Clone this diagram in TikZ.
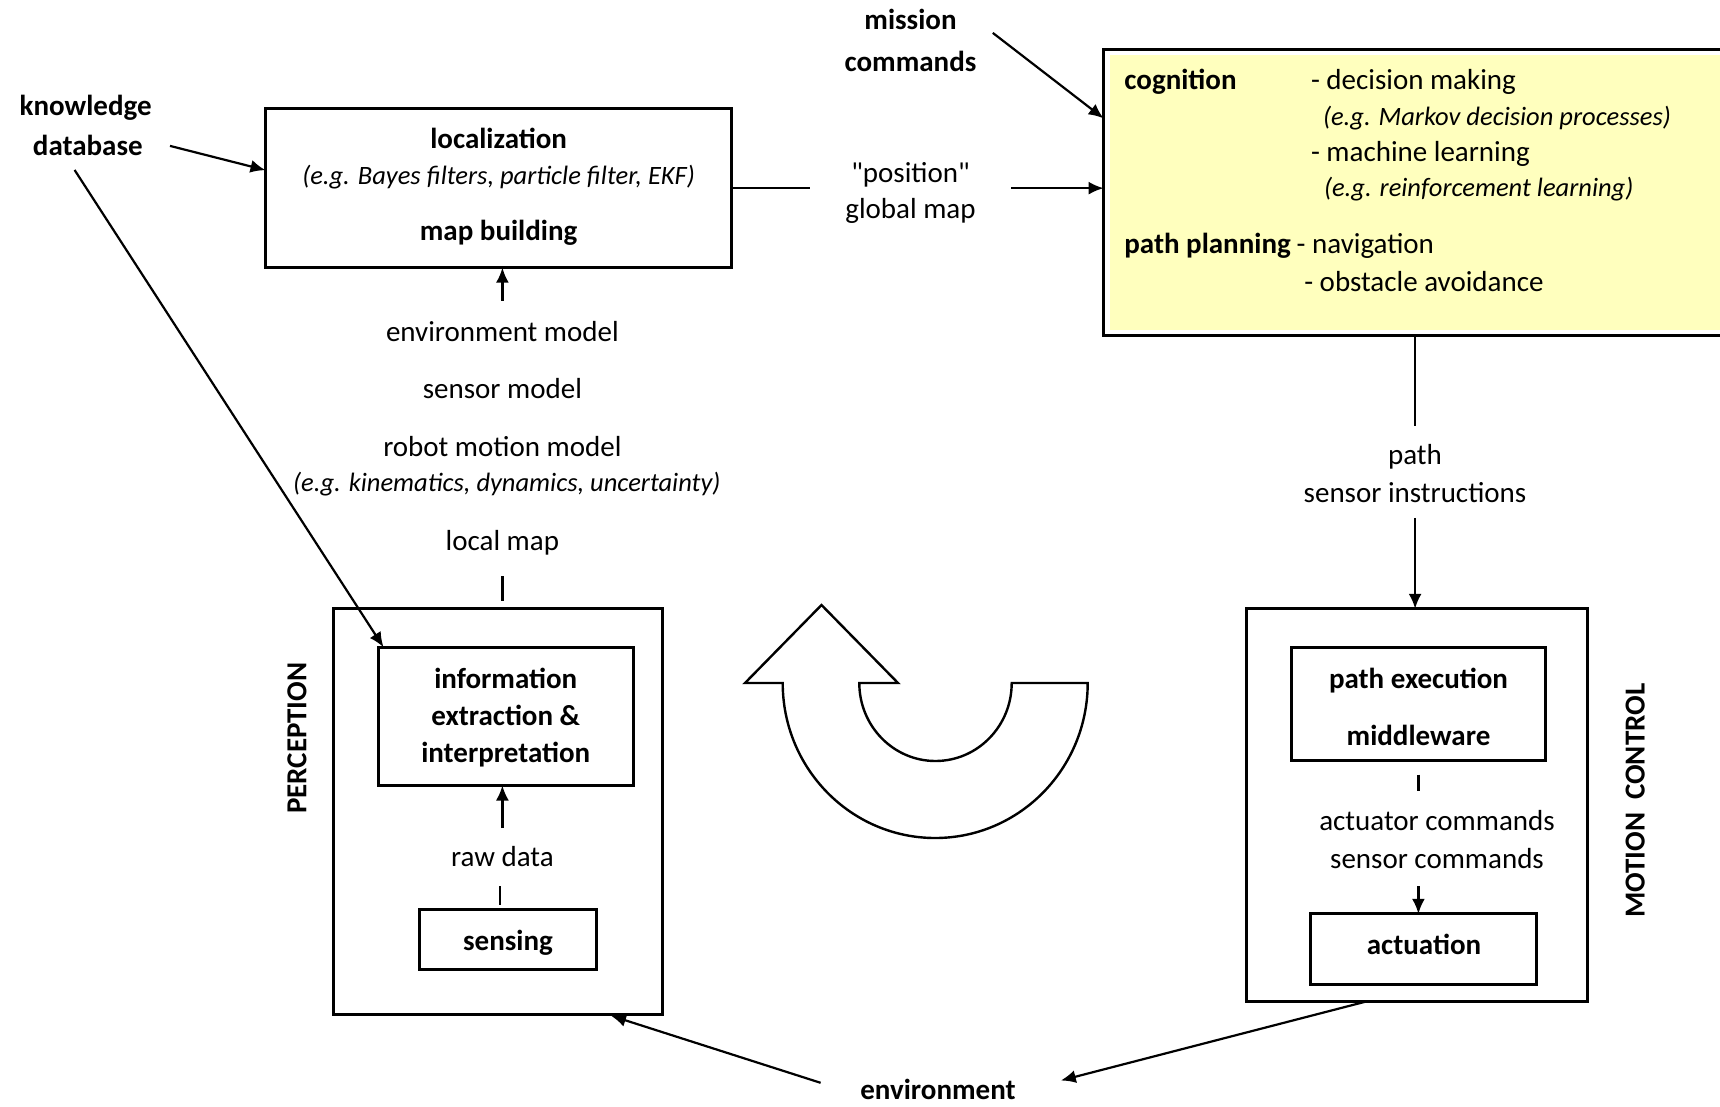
\documentclass[tikz,border=0pt]{standalone}
\usepackage{fontspec}
\setmainfont{Carlito}
\usetikzlibrary{arrows.meta,calc}
\definecolor{cogfill}{RGB}{255,255,190}
\begin{document}
\begin{tikzpicture}[x=1pt,y=-1pt,
  every node/.style={inner sep=0pt, outer sep=0pt, font=\fontsize{29}{40}\selectfont},
  ln/.style={text height=26pt, text depth=5.4pt},
  bf/.style={font=\fontsize{29}{40}\selectfont\bfseries},
  it/.style={font=\fontsize{26.5}{36}\selectfont\itshape},
  box/.style={draw, line width=3pt, rectangle},
  conn/.style={line width=2.2pt},
  arr/.style={line width=2.2pt, -{Latex[length=15pt,width=13pt]}},
]
\clip (0,0) rectangle (1720,1107);
\fill[white] (0,0) rectangle (1720,1107);

% cognition box
\node[box, fill=white, minimum width=680pt, minimum height=286.3pt, anchor=north west] (cog) at (1103.6,49.4) {};
\fill[cogfill] ($(cog.north west)+(6,6)$) rectangle ($(cog.south east)+(-6,-6)$);
\node[bf,ln,anchor=west] (cogt) at (1124.4,79) {cognition};
\node[ln,anchor=west] (dm) at (1311,79) {- decision making};
\node[it,ln,anchor=west] (mdp) at (1323,115.2) {(e.g. Markov decision processes)};
\node[ln,anchor=west] (ml) at (1311,151.4) {- machine learning};
\node[it,ln,anchor=west] (rl) at (1324,186.5) {(e.g. reinforcement learning)};
\node[bf,ln,anchor=west] (pp) at (1124.4,243.5) {path planning};
\node[ln,anchor=west] (nav) at (1296.7,243.5) {- navigation};
\node[ln,anchor=west] (oa) at (1304.3,280.8) {- obstacle avoidance};

% top labels
\node[bf,ln] (mis1) at (910.5,19.7) {mission};
\node[bf,ln] (mis2) at (910.5,61.4) {commands};
\node[bf,ln] (kd1) at (85.6,105.3) {knowledge};
\node[bf,ln] (kd2) at (87.8,144.8) {database};

% localization box
\node[box, minimum width=466.2pt, minimum height=159.1pt] (loc) at (498.6,188.15) {};
\node[bf,ln] (loct) at (498.6,138.2) {localization};
\node[it,ln] (loce) at (498.6,174.4) {(e.g. Bayes filters, particle filter, EKF)};
\node[bf,ln] (mapb) at (498.6,230.4) {map building};

\node[ln] (pos1) at (910.5,172.2) {\textquotedbl position\textquotedbl};
\node[ln] (pos2) at (910.5,208.4) {global map};
\coordinate (posL) at (809.6,188.15);
\coordinate (posR) at (1011.4,188.15);
\draw[conn] (loc.east) -- (posL);
\draw[arr] (posR) -- (posR -| cog.west);

\coordinate (misS) at (992.8,32.9);
\draw[arr] (misS) -- ($(cog.north west)+(0,69)$);

% middle labels
\node[ln] (envm) at (502.4,331.3) {environment model};
\node[ln] (senm) at (502.4,388.3) {sensor model};
\node[ln] (robm) at (502.4,446.5) {robot motion model};
\node[it,ln] (robe) at (506.8,481.6) {(e.g. kinematics, dynamics, uncertainty)};
\node[ln] (locm) at (502.4,539.7) {local map};
\coordinate (envS) at (502.4,300.6);
\draw[arr] (envS) -- (envS |- loc.south);
\coordinate (lmA) at (502.4,576);
\coordinate (lmB) at (502.4,601.2);
\draw[conn] (lmA) -- (lmB);

% perception
\node[box, minimum width=329.1pt, minimum height=405.9pt] (perc) at (498.05,811.75) {};
\node[box, minimum width=254.5pt, minimum height=138.3pt] (info) at (505.75,716.35) {};
\node[bf,ln] (inf1) at (505.75,678) {information};
\node[bf,ln] (inf2) at (505.75,715.2) {extraction \&};
\node[bf,ln] (inf3) at (505.75,752.5) {interpretation};
\node[ln] (raw) at (502.4,855.7) {raw data};
\coordinate (rawA) at (502.4,828.2);
\draw[arr] (rawA) -- (rawA |- info.south);
\coordinate (rawB) at (500.2,886.4);
\coordinate (rawC) at (500.2,905);
\draw[conn] (rawB) -- (rawC);
\node[box, minimum width=177.8pt, minimum height=60.3pt] (sens) at (507.9,939.55) {};
\node[bf,ln] (senst) at (508,940) {sensing};
\node[bf,ln,rotate=90] (perct) at (296,738.3) {PERCEPTION};

% knowledge arrows
\coordinate (kdS) at (170,145.9);
\draw[arr] (kdS) -- ($(loc.west)+(0,-18)$);
\coordinate (kdS2) at (74.6,170);
\draw[arr] (kdS2) -- ($(info.north west)+(5,0)$);

% cognition to motion control
\coordinate (cogA) at (1415.1,425.6);
\draw[conn] (cogA |- cog.south) -- (cogA);
\node[ln] (pth) at (1415,454.2) {path};
\node[ln] (sins) at (1415,492.6) {sensor instructions};

% motion control
\node[box, minimum width=341.2pt, minimum height=392.8pt] (mot) at (1416.8,805.2) {};
\coordinate (cogB) at (1415.1,517.8);
\draw[arr] (cogB) -- (cogB |- mot.north);
\node[box, minimum width=254.5pt, minimum height=113pt] (pexe) at (1418.45,703.7) {};
\node[bf,ln] (pe1) at (1418.5,678) {path execution};
\node[bf,ln] (pe2) at (1418.5,735) {middleware};
\coordinate (mwA) at (1418.4,774.5);
\coordinate (mwB) at (1418.4,791);
\draw[conn] (mwA) -- (mwB);
\node[ln] (acmd) at (1437,820.6) {actuator commands};
\node[ln] (scmd) at (1437,857.9) {sensor commands};
\node[box, minimum width=226pt, minimum height=70.2pt] (act) at (1423.9,948.9) {};
\node[bf,ln] (actt) at (1424,944.5) {actuation};
\coordinate (acA) at (1418.4,886.4);
\draw[arr] (acA) -- (acA |- act.north);
\node[bf,ln,rotate=90] (mott) at (1634.3,800.8) {MOTION\ \ CONTROL};

% environment
\node[bf,ln] (env) at (938,1089.3) {environment};
\coordinate (envL) at (820.6,1082.8);
\draw[arr] (envL) -- ($(perc.south east)+(-51.6,1)$);
\coordinate (envR) at (1060.8,1080.5);
\draw[arr] ($(mot.south)+(-51,0)$) -- (envR);

% U-turn arrow
\draw[line width=2.4pt, line join=miter, fill=white]
  (745,683) -- (821.5,605) -- (898,683) -- (859.3,683)
  arc[start angle=180, end angle=0, x radius=76.2, y radius=78]
  -- (1087.7,683)
  arc[start angle=0, end angle=180, x radius=152.5, y radius=155]
  -- cycle;
\end{tikzpicture}
\end{document}
